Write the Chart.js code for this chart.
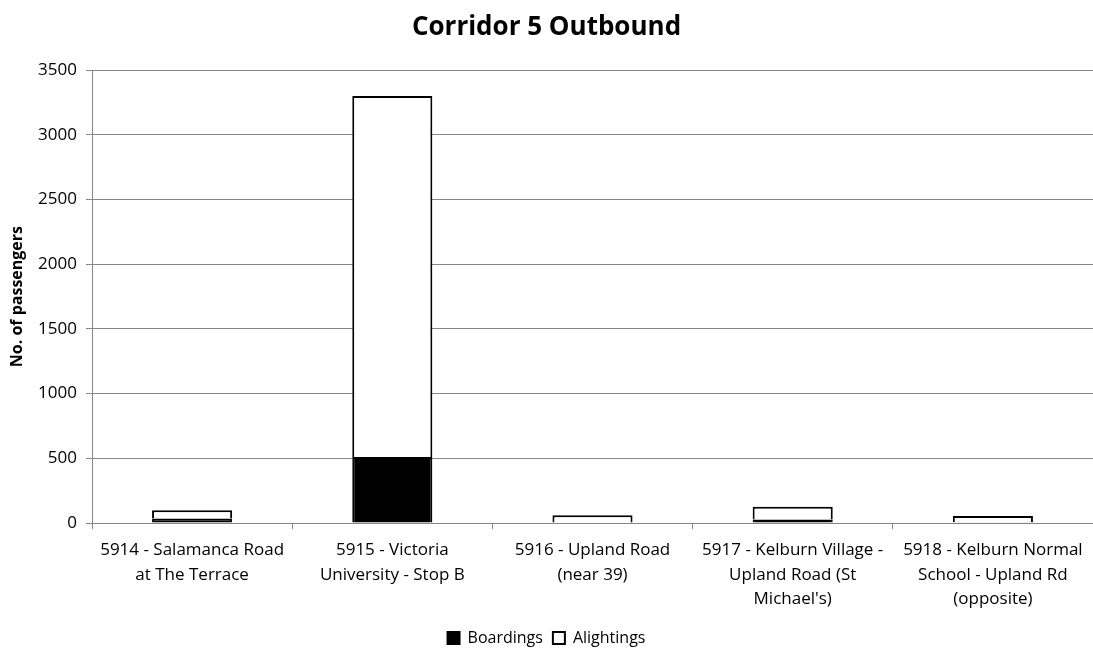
<!DOCTYPE html>
<html>
<head>
<meta charset="utf-8">
<script src="https://cdn.jsdelivr.net/npm/chart.js@4/dist/chart.umd.min.js"></script>
<style>
  html,body{margin:0;padding:0;background:#fff;}
  #wrap{width:1093px;height:648px;}
</style>
</head>
<body>
<div id="wrap"><canvas id="chart" width="1093" height="648"></canvas></div>
<script>
// stop names, split into lines as in the picture
const stops = [
  ['5914 - Salamanca Road', 'at The Terrace'],
  ['5915 - Victoria', 'University - Stop B'],
  ['5916 - Upland Road', '(near 39)'],
  ['5917 - Kelburn Village -', 'Upland Road (St', "Michael's)"],
  ['5918 - Kelburn Normal', 'School - Upland Rd', '(opposite)']
];
const boardings = [35, 510, 3, 28, 5];
const alightings = [63, 2790, 57, 97, 50];
const yTicks = [0, 500, 1000, 1500, 2000, 2500, 3000, 3500];

const font = "'Open Sans', 'Liberation Sans', sans-serif";
Chart.defaults.font.family = font;
Chart.defaults.color = '#000';

new Chart(document.getElementById('chart').getContext('2d'), {
  type: 'bar',
  data: {
    labels: stops,
    datasets: [
      { label: 'Boardings', data: boardings, backgroundColor: '#000', borderColor: '#000', borderWidth: 2,
        barPercentage: 0.4, categoryPercentage: 1 },
      { label: 'Alightings', data: alightings, backgroundColor: '#fff', borderColor: '#000', borderWidth: 2,
        barPercentage: 0.4, categoryPercentage: 1 }
    ]
  },
  options: {
    responsive: false,
    animation: false,
    layout: { padding: { left: 0, right: 0, top: 4, bottom: -8 } },
    plugins: {
      title: { display: true, text: 'Corridor 5 Outbound', font: { size: 26, weight: 'bold' },
        padding: { top: 8, bottom: 27 } },
      legend: { position: 'bottom',
        labels: { boxWidth: 12, boxHeight: 12, font: { size: 16 }, padding: 10 } },
      tooltip: { enabled: false }
    },
    scales: {
      x: {
        stacked: true,
        grid: { drawOnChartArea: false, color: '#868686', tickLength: 6, offset: true },
        border: { color: '#868686' },
        ticks: { font: { size: 17, lineHeight: 1.45 }, maxRotation: 0, autoSkip: false, padding: 9 },
        afterFit: axis => { axis.height = 97; }
      },
      y: {
        stacked: true,
        min: 0, max: 3500,
        afterBuildTicks: axis => { axis.ticks = yTicks.map(v => ({ value: v })); },
        afterFit: axis => { axis.width = 92; },
        grid: { color: '#868686', tickLength: 6 },
        border: { color: '#868686' },
        ticks: { font: { size: 17 }, padding: 9, callback: v => String(v) },
        title: { display: true, text: 'No. of passengers', font: { size: 16, weight: 'bold' }, padding: { top: 8, bottom: 0 } }
      }
    }
  }
});
</script>
</body>
</html>
